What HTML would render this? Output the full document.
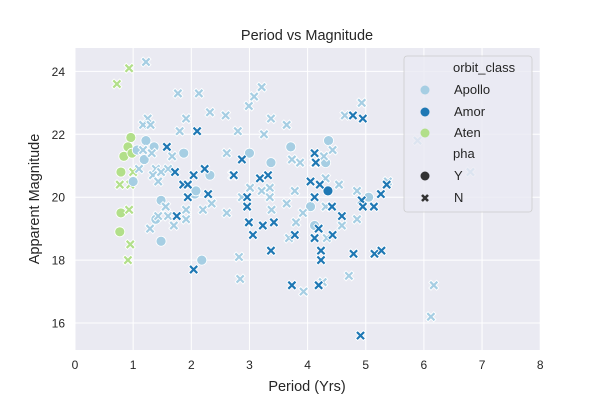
<!DOCTYPE html>
<html><head><meta charset="utf-8"><style>
body{margin:0;background:#fff}
svg text{font-family:"Liberation Sans","DejaVu Sans",sans-serif;fill:#262626}
</style></head><body>
<svg id="chart" width="600" height="400" xmlns="http://www.w3.org/2000/svg">
<rect x="75" y="48" width="465" height="302" fill="#eaeaf2"/>
<g id="grid"></g><g id="ticks"></g><g id="marks"></g>
<text x="307" y="40" font-size="14.5" text-anchor="middle">Period vs Magnitude</text>
<text x="307" y="391" font-size="14.5" text-anchor="middle">Period (Yrs)</text>
<text transform="translate(39,199) rotate(-90)" font-size="14.5" text-anchor="middle">Apparent Magnitude</text>
<g>
<rect x="404" y="56" width="128" height="156" rx="3" fill="#eaeaf2" fill-opacity="0.8" stroke="#cccccc" stroke-width="0.8"/>
<text x="453" y="72" font-size="13">orbit_class</text>
<g><circle cx="425" cy="90" r="4.5" fill="#a6cee3"/><text x="454" y="94" font-size="13">Apollo</text></g>
<g><circle cx="425" cy="112" r="4.5" fill="#1f78b4"/><text x="454" y="116" font-size="13">Amor</text></g>
<g><circle cx="425" cy="133" r="4.5" fill="#b2df8a"/><text x="454" y="137" font-size="13">Aten</text></g>
<text x="453" y="158" font-size="13">pha</text>
<g><circle cx="425" cy="176" r="4.5" fill="#333"/><text x="454" y="180" font-size="13">Y</text></g>
<g><path d="M422,195 L428,201 M428,195 L422,201" stroke="#333" stroke-width="2.6"/><text x="454" y="202" font-size="13">N</text></g>
</g>
</svg>
<script>
const xTicks=[0,1,2,3,4,5,6,7,8];
const yTicks=[16,18,20,22,24];
const classes=["Apollo","Amor","Aten"];
const classColors=["#a6cee3","#1f78b4","#b2df8a"];
const periods=[0.72,0.93,0.96,0.91,0.84,0.98,0.79,0.79,0.77,0.77,1.0,0.95,0.93,0.95,0.91,
1.22,1.07,1.36,1.19,1.87,1.0,2.06,1.48,1.39,1.48,2.18,3.0,3.71,3.37,4.36,4.31,5.05,4.05,4.12,2.32,2.08,
4.35,
1.22,1.77,2.13,2.32,2.59,1.25,1.17,1.3,1.91,1.8,1.17,1.32,1.67,2.61,1.1,1.39,1.6,1.34,1.43,1.48,
3.21,3.08,2.99,3.37,3.64,2.8,3.25,4.93,4.64,4.43,4.28,3.73,3.87,4.12,4.31,4.54,4.85,3.01,3.21,3.35,3.78,5.38,
2.87,3.35,3.64,3.38,3.92,3.8,4.59,4.85,4.31,3.68,4.33,2.82,2.84,3.93,4.26,4.71,
1.56,1.29,1.6,1.7,1.91,1.91,2.2,2.35,2.61,1.43,5.89,6.8,6.17,6.12,
2.1,1.58,1.72,2.04,2.23,2.71,1.86,1.94,2.29,1.94,1.75,2.04,
4.78,4.95,2.87,2.73,3.18,3.32,4.12,4.14,4.05,4.21,5.26,5.36,2.96,
2.96,2.99,3.06,3.23,3.42,3.78,3.37,4.12,4.42,4.93,5.14,4.95,4.59,4.19,4.12,4.43,4.23,4.23,4.79,5.15,5.27,3.73,4.19,4.91];
const magnitudes=[23.6,24.1,21.9,21.6,21.3,21.4,20.8,19.5,18.9,20.4,20.8,20.4,19.6,18.5,18.0,
21.8,21.5,21.6,21.2,21.4,20.5,20.1,19.9,19.3,18.6,18.0,21.4,21.6,21.1,21.8,21.1,20.0,19.7,19.1,20.7,20.2,
20.2,
24.3,23.3,23.3,22.7,22.6,22.5,22.3,22.3,22.5,22.1,21.5,21.4,21.3,21.4,20.9,20.9,20.9,20.7,20.5,20.8,
23.5,23.2,22.9,22.5,22.3,22.1,22.0,23.0,22.6,21.5,21.3,21.2,21.1,21.1,20.6,20.4,20.2,20.3,20.2,20.3,20.2,20.5,
20.0,20.0,19.8,19.6,19.5,19.2,19.1,19.3,19.7,18.7,18.7,18.1,17.4,17.0,17.3,17.5,
19.7,19.0,19.4,19.1,19.6,19.3,19.6,19.8,19.5,19.4,21.8,20.8,17.2,16.2,
22.1,21.6,20.8,20.7,20.9,20.7,20.4,20.4,20.1,20.0,19.4,17.7,
22.6,22.5,21.2,20.7,20.6,20.7,21.4,21.1,20.5,20.4,20.1,20.4,20.0,
19.7,19.2,18.8,19.1,19.2,18.8,18.3,20.0,19.7,19.9,19.7,19.7,19.4,19.0,18.7,18.8,18.3,18.0,18.2,18.2,18.3,17.2,17.2,15.6];
const classIdx=[2,2,2,2,2,2,2,2,2,2,2,2,2,2,2,
0,0,0,0,0,0,0,0,0,0,0,0,0,0,0,0,0,0,0,0,0,
1,
0,0,0,0,0,0,0,0,0,0,0,0,0,0,0,0,0,0,0,0,
0,0,0,0,0,0,0,0,0,0,0,0,0,0,0,0,0,0,0,0,0,0,
0,0,0,0,0,0,0,0,0,0,0,0,0,0,0,0,
0,0,0,0,0,0,0,0,0,0,0,0,0,0,
1,1,1,1,1,1,1,1,1,1,1,1,
1,1,1,1,1,1,1,1,1,1,1,1,1,
1,1,1,1,1,1,1,1,1,1,1,1,1,1,1,1,1,1,1,1,1,1,1,1];
const phaY=[0,0,1,1,1,1,1,1,1,0,0,0,0,0,0,
1,1,1,1,1,1,1,1,1,1,1,1,1,1,1,1,1,1,1,1,1,
1];
const NS="http://www.w3.org/2000/svg";
const xS=v=>75+v*58.15, yS=v=>323-(v-16)*31.45;
function mk(t,a,p){const e=document.createElementNS(NS,t);for(const k in a)e.setAttribute(k,a[k]);p.appendChild(e);return e;}
const grid=document.getElementById('grid'),ticks=document.getElementById('ticks'),marks=document.getElementById('marks');
xTicks.forEach(v=>{
const l=mk('line',{x1:xS(v),x2:xS(v),y1:48,y2:350,stroke:'#fff','stroke-width':1},grid);


const t=mk('text',{x:xS(v),y:369,'font-size':12,'text-anchor':'middle'},ticks);t.textContent=v;


});
yTicks.forEach(v=>{
const l=mk('line',{x1:75,x2:540,y1:yS(v),y2:yS(v),stroke:'#fff','stroke-width':1},grid);


const t=mk('text',{x:65,y:yS(v)+4.5,'font-size':12,'text-anchor':'end'},ticks);t.textContent=v;


});
periods.forEach((p,i)=>{
const x=xS(p),y=yS(magnitudes[i]),c=classColors[classIdx[i]];
let el;
if(phaY[i]){
el=mk('circle',{cx:x,cy:y,r:5,fill:c,stroke:'#fff','stroke-width':0.8},marks);
}else{
el=mk('g',{},marks);
const d=`M${x-2.8},${y-2.8}L${x+2.8},${y+2.8}M${x+2.8},${y-2.8}L${x-2.8},${y+2.8}`;
mk('path',{d:d,stroke:'#fff','stroke-width':4,'stroke-linecap':'square'},el);
mk('path',{d:d,stroke:c,'stroke-width':2.2,'stroke-linecap':'square'},el);
}


});
</script>
</body></html>
